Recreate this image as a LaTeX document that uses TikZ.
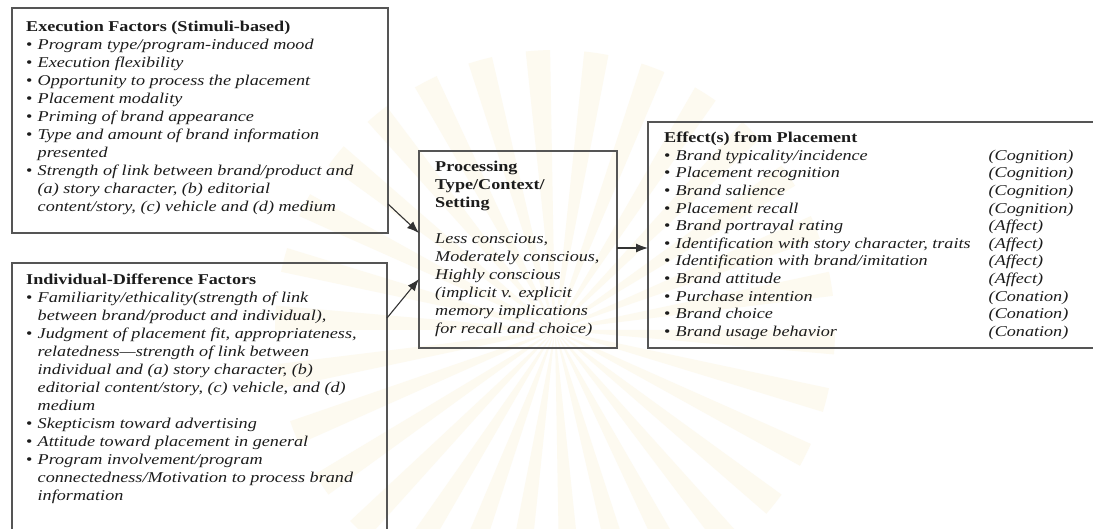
\documentclass[tikz,border=0pt]{standalone}
\usepackage{fontspec}
\setmainfont{Liberation Serif}[FakeStretch=1.21]
\usetikzlibrary{arrows.meta,calc}
\definecolor{ink}{HTML}{1C1C1C}
\definecolor{frame}{HTML}{555555}
\definecolor{rayfill}{HTML}{FDFAF0}
% bullet item, continuation line, and two-column effect line
\newcommand\bul[1]{\makebox[11.5pt][l]{\textbullet}\textit{#1}}
\newcommand\cnt[1]{\hspace*{11.5pt}\textit{#1}}
\newcommand\eff[2]{\makebox[11.5pt][l]{\textbullet}\makebox[313pt][l]{\textit{#1}}\textit{#2}}

\begin{document}
\begin{tikzpicture}[x=1pt,y=-1pt,
  panel/.style={draw=frame,line width=1.4pt,anchor=north west,inner sep=0pt,outer sep=0pt},
  body/.style={anchor=north west,inner sep=0pt,align=left,text=ink,font=\fontsize{15}{18}\selectfont},
  arr/.style={draw=ink!90,line width=1.1pt,-{Latex[length=12pt,width=9pt]}},
  ray/.style={fill=rayfill,draw=none}]
\useasboundingbox[fill=white] (0,0) rectangle (1093,529);

% faint sunburst seal in the background
\begin{scope}
  \clip (555,330) circle (280);
  \foreach \a in {0,12,...,348}
    \fill[ray] (555,330) -- ($(555,330)+(\a:320)$) -- ($(555,330)+(\a+5:320)$) -- cycle;
\end{scope}

% frames
\node[panel,minimum width=376pt,minimum height=225pt] (exec) at (12,8) {};
\node[panel,minimum width=375pt,minimum height=290pt] (indiv) at (12,263) {};
\node[panel,minimum width=198pt,minimum height=197pt] (proc) at (419,151) {};
\node[panel,minimum width=460pt,minimum height=226pt] (effect) at (648,122) {};

% texts
\node[body] (exectext) at (26,20.5) {%
\textbf{Execution Factors (Stimuli-based)}\\
\bul{Program type/program-induced mood}\\
\bul{Execution flexibility}\\
\bul{Opportunity to process the placement}\\
\bul{Placement modality}\\
\bul{Priming of brand appearance}\\
\bul{Type and amount of brand information}\\
\cnt{presented}\\
\bul{Strength of link between brand/product and}\\
\cnt{(a) story character, (b) editorial}\\
\cnt{content/story, (c) vehicle and (d) medium}};

\node[body] (indivtext) at (26,274) {%
\textbf{Individual-Difference Factors}\\
\bul{Familiarity/ethicality(strength of link}\\
\cnt{between brand/product and individual),}\\
\bul{Judgment of placement fit, appropriateness,}\\
\cnt{relatedness---strength of link between}\\
\cnt{individual and (a) story character, (b)}\\
\cnt{editorial content/story, (c) vehicle, and (d)}\\
\cnt{medium}\\
\bul{Skepticism toward advertising}\\
\bul{Attitude toward placement in general}\\
\bul{Program involvement/program}\\
\cnt{connectedness/Motivation to process brand}\\
\cnt{information}};

\node[body] (proctext) at (435,160.5) {%
\textbf{Processing}\\
\textbf{Type/Context/}\\
\textbf{Setting}\\[18pt]
\textit{Less conscious,}\\
\textit{Moderately conscious,}\\
\textit{Highly conscious}\\
\textit{(implicit v. explicit}\\
\textit{memory implications}\\
\textit{for recall and choice)}};

\node[body,font=\fontsize{15}{17.6}\selectfont] (effecttext) at (664,132) {%
\textbf{Effect(s) from Placement}\\
\eff{Brand typicality/incidence}{(Cognition)}\\
\eff{Placement recognition}{(Cognition)}\\
\eff{Brand salience}{(Cognition)}\\
\eff{Placement recall}{(Cognition)}\\
\eff{Brand portrayal rating}{(Affect)}\\
\eff{Identification with story character, traits}{(Affect)}\\
\eff{Identification with brand/imitation}{(Affect)}\\
\eff{Brand attitude}{(Affect)}\\
\eff{Purchase intention}{(Conation)}\\
\eff{Brand choice}{(Conation)}\\
\eff{Brand usage behavior}{(Conation)}};

% connectors
\draw[arr] ([yshift=29pt]exec.south east) -- ([yshift=-82pt]proc.north west);
\draw[arr] ([yshift=-55pt]indiv.north east) -- ([yshift=-128pt]proc.north west);
\draw[arr] ([yshift=-97pt]proc.north east) -- ([yshift=-126pt]effect.north west);
\end{tikzpicture}
\end{document}
